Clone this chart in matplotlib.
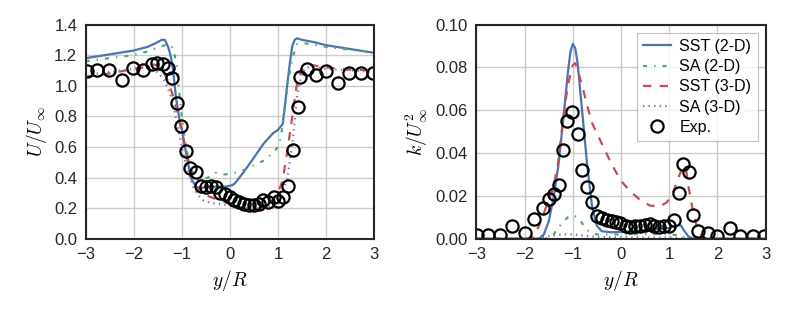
import matplotlib
matplotlib.use("Agg")
import matplotlib.pyplot as plt

# ---- left panel: mean velocity U/U_inf ----
u_sst2d_y = [-3, -2.5, -2, -1.7, -1.5, -1.42, -1.35, -1.28, -1.22, -1.18, -1.12, -1.05, -1.0, -0.9,
             -0.8, -0.7, -0.6, -0.5, -0.3, -0.1, 0.05, 0.1, 0.3, 0.5, 0.7, 0.9, 1.0, 1.1, 1.15, 1.2,
             1.25, 1.3, 1.35, 1.4, 1.5, 1.75, 2.0, 2.5, 3]
u_sst2d = [1.18, 1.205, 1.23, 1.255, 1.285, 1.30, 1.30, 1.25, 1.18, 1.10, 0.92, 0.78, 0.72, 0.54,
           0.39, 0.34, 0.33, 0.34, 0.34, 0.34, 0.35, 0.36, 0.44, 0.53, 0.62, 0.69, 0.71, 0.75, 0.88, 1.02,
           1.15, 1.26, 1.30, 1.31, 1.30, 1.285, 1.265, 1.24, 1.215]

u_sa2d_y = [-3, -2.5, -2, -1.7, -1.5, -1.35, -1.25, -1.2, -1.15, -1.1, -1.05, -1.0, -0.95, -0.9,
            -0.8, -0.7, -0.6, -0.45, -0.3, -0.1, 0.1, 0.3, 0.5, 0.7, 0.9, 1.0, 1.05, 1.1, 1.15, 1.2,
            1.3, 1.4, 1.5, 1.7, 2.0, 2.5, 3]
u_sa2d = [1.16, 1.18, 1.20, 1.225, 1.25, 1.265, 1.27, 1.25, 1.20, 1.12, 0.95, 0.80, 0.68, 0.58,
          0.45, 0.40, 0.385, 0.40, 0.43, 0.42, 0.43, 0.45, 0.48, 0.51, 0.56, 0.60, 0.65, 0.74, 0.87, 1.0,
          1.18, 1.27, 1.28, 1.27, 1.255, 1.235, 1.22]

u_sst3d_y = [-3, -2.5, -2, -1.8, -1.6, -1.5, -1.4, -1.3, -1.2, -1.1, -1.0, -0.9, -0.8, -0.7, -0.6,
             -0.5, -0.3, -0.1, 0.1, 0.3, 0.5, 0.7, 0.8, 0.9, 1.0, 1.1, 1.2, 1.3, 1.4, 1.5, 1.6, 1.8,
             2.0, 2.5, 3]
u_sst3d = [1.06, 1.08, 1.11, 1.12, 1.14, 1.13, 1.10, 1.04, 0.95, 0.84, 0.69, 0.56, 0.43, 0.34, 0.30,
           0.285, 0.26, 0.24, 0.215, 0.20, 0.19, 0.20, 0.22, 0.25, 0.30, 0.38, 0.58, 0.80, 1.02, 1.12,
           1.14, 1.13, 1.12, 1.105, 1.10]

u_sa3d_y = [-3, -2.5, -2, -1.7, -1.55, -1.45, -1.35, -1.25, -1.15, -1.05, -0.95, -0.85, -0.75, -0.65,
            -0.55, -0.4, -0.2, 0, 0.2, 0.4, 0.6, 0.8, 0.9, 1.0, 1.1, 1.2, 1.3, 1.4, 1.5, 1.6, 1.8, 2.0,
            2.5, 3]
u_sa3d = [1.07, 1.09, 1.11, 1.12, 1.10, 1.07, 1.03, 0.95, 0.83, 0.68, 0.53, 0.42, 0.33, 0.28,
          0.25, 0.235, 0.225, 0.22, 0.21, 0.20, 0.20, 0.21, 0.23, 0.26, 0.31, 0.40, 0.62, 0.93, 1.09,
          1.12, 1.12, 1.11, 1.10, 1.09]

u_exp_y = [-2.98, -2.76, -2.51, -2.24, -2.02, -1.80, -1.63, -1.52, -1.40, -1.29, -1.20, -1.11, -1.02,
           -0.92, -0.82, -0.70, -0.60, -0.50, -0.39, -0.29, -0.20, -0.11, 0.0, 0.09, 0.19, 0.30, 0.40,
           0.50, 0.61, 0.70, 0.79, 0.91, 1.00, 1.11, 1.21, 1.31, 1.41, 1.47, 1.60, 1.79, 2.00, 2.26,
           2.49, 2.74, 2.97]
u_exp = [1.095, 1.10, 1.10, 1.04, 1.117, 1.10, 1.145, 1.15, 1.14, 1.117, 1.05, 0.884, 0.736,
         0.575, 0.46, 0.437, 0.346, 0.34, 0.346, 0.335, 0.30, 0.29, 0.274, 0.253, 0.237, 0.226, 0.222,
         0.222, 0.23, 0.253, 0.242, 0.274, 0.246, 0.274, 0.344, 0.579, 0.862, 1.058, 1.112, 1.07,
         1.095, 1.015, 1.084, 1.08, 1.08]

# ---- right panel: turbulent kinetic energy k/U_inf^2 ----
k_sst2d_y = [-3, -2, -1.7, -1.6, -1.5, -1.4, -1.3, -1.2, -1.1, -1.05, -1.0, -0.95, -0.9, -0.8, -0.7,
             -0.6, -0.5, -0.4, -0.2, 0, 0.2, 0.5, 0.8, 1.0, 1.1, 1.2, 1.25, 1.3, 1.4, 1.5, 2, 3]
k_sst2d = [0, 0, 0, 0.002, 0.008, 0.019, 0.034, 0.055, 0.078, 0.087, 0.091, 0.089, 0.082, 0.058,
           0.034, 0.015, 0.006, 0.0035, 0.003, 0.0032, 0.0035, 0.004, 0.0045, 0.005, 0.0058, 0.0065,
           0.006, 0.004, 0.001, 0, 0, 0]

k_sa2d_y = [-3, -1.6, -1.5, -1.4, -1.3, -1.2, -1.1, -1.0, -0.9, -0.8, -0.7, -0.6, -0.5, 0, 0.5, 1.0,
            1.2, 1.3, 1.4, 1.5, 3]
k_sa2d = [0, 0, 0.0005, 0.002, 0.005, 0.008, 0.010, 0.011, 0.010, 0.007, 0.004, 0.0025, 0.002,
          0.002, 0.0022, 0.0022, 0.0015, 0.0008, 0.0002, 0, 0]

k_sst3d_y = [-3, -2, -1.85, -1.7, -1.6, -1.5, -1.4, -1.3, -1.2, -1.1, -1.0, -0.95, -0.9, -0.8, -0.7,
             -0.6, -0.4, -0.2, 0, 0.2, 0.4, 0.6, 0.8, 0.95, 1.05, 1.15, 1.25, 1.3, 1.35, 1.4, 1.5, 1.6,
             1.75, 2, 3]
k_sst3d = [0, 0, 0, 0.006, 0.012, 0.018, 0.024, 0.036, 0.056, 0.072, 0.081, 0.082, 0.079, 0.071,
           0.062, 0.054, 0.0445, 0.035, 0.027, 0.022, 0.018, 0.0155, 0.015, 0.017, 0.020, 0.026, 0.032,
           0.034, 0.032, 0.024, 0.012, 0.003, 0, 0, 0]

k_sa3d_y = [-3, -1.7, -1.6, -1.4, -1.2, -1.0, -0.8, -0.6, -0.4, 0, 0.5, 1.0, 1.3, 1.4, 3]
k_sa3d = [0, 0, 0.0008, 0.0015, 0.002, 0.002, 0.0015, 0.001, 0.0008, 0.0006, 0.0006, 0.0006,
          0.0003, 0, 0]

k_exp_y = [-2.98, -2.75, -2.51, -2.25, -2.0, -1.81, -1.61, -1.49, -1.39, -1.29, -1.21, -1.11, -1.01,
           -0.89, -0.80, -0.70, -0.60, -0.50, -0.40, -0.30, -0.19, -0.10, -0.02, 0.10, 0.19, 0.29,
           0.39, 0.50, 0.60, 0.69, 0.79, 0.90, 1.0, 1.10, 1.20, 1.29, 1.41, 1.49, 1.59, 1.80, 2.0,
           2.25, 2.47, 2.73, 2.97]
k_exp = [0.0017, 0.0016, 0.0016, 0.0059, 0.0028, 0.009, 0.0142, 0.0185, 0.021, 0.0253, 0.0414,
         0.055, 0.059, 0.049, 0.032, 0.024, 0.0173, 0.0106, 0.0095, 0.0087, 0.0082, 0.0079, 0.0072,
         0.0059, 0.0054, 0.0059, 0.0061, 0.0064, 0.0068, 0.0059, 0.0056, 0.0061, 0.0059, 0.0087,
         0.0215, 0.0347, 0.031, 0.0113, 0.0036, 0.0025, 0.0014, 0.0051, 0.0012, 0.0012, 0.0014]

# seaborn "deep" colours
c_blue, c_green, c_red, c_purple = "#4C72B0", "#55A868", "#C44E52", "#8172B2"

plt.rcParams["font.family"] = ["Liberation Sans", "DejaVu Sans"]
plt.rcParams["mathtext.fontset"] = "cm"
plt.rcParams["font.size"] = 11
plt.rcParams["lines.scale_dashes"] = False

# old-style (unscaled) dash patterns
DASH = (6, 6)
DASHDOT = (3, 5, 1, 5)
DOT = (1, 3)

fig = plt.figure(figsize=(7.89, 3.16), dpi=100)
ax1 = fig.add_axes([0.1086, 0.2446, 0.3654, 0.6778])
ax2 = fig.add_axes([0.6037, 0.2446, 0.3668, 0.6778])


def style(ax):
    ax.grid(True, color="#cccccc", linewidth=1.0)
    ax.set_axisbelow(True)
    for s in ax.spines.values():
        s.set_color("#262626")
        s.set_linewidth(1.5)
    ax.tick_params(length=0, pad=6, labelsize=12, colors="#262626")
    ax.set_xlim(-3, 3)
    ax.set_xticks([-3, -2, -1, 0, 1, 2, 3])
    ax.set_xticklabels(["\u22123", "\u22122", "\u22121", "0", "1", "2", "3"])
    ax.set_xlabel("$y/R$", fontsize=14, labelpad=4)


mk = dict(ls="none", marker="o", ms=8.8, mfc="none", mec="black", mew=1.6)

ax1.plot(u_sst2d_y, u_sst2d, "-", color=c_blue, lw=1.6)
ax1.plot(u_sa2d_y, u_sa2d, color=c_green, lw=1.6, dashes=DASHDOT)
ax1.plot(u_sst3d_y, u_sst3d, color=c_red, lw=1.6, dashes=DASH)
ax1.plot(u_sa3d_y, u_sa3d, color=c_purple, lw=1.6, dashes=DOT)
ax1.plot(u_exp_y, u_exp, **mk)
style(ax1)
ax1.set_ylim(0, 1.4)
ax1.set_yticks([0.0, 0.2, 0.4, 0.6, 0.8, 1.0, 1.2, 1.4])
ax1.set_yticklabels(["0.0", "0.2", "0.4", "0.6", "0.8", "1.0", "1.2", "1.4"])
ax1.set_ylabel("$U/U_\\infty$", fontsize=14, labelpad=4)

ax2.plot(k_sst2d_y, k_sst2d, "-", color=c_blue, lw=1.6, label="SST (2-D)")
ax2.plot(k_sa2d_y, k_sa2d, color=c_green, lw=1.6, dashes=DASHDOT, label="SA (2-D)")
ax2.plot(k_sst3d_y, k_sst3d, color=c_red, lw=1.6, dashes=DASH, label="SST (3-D)")
ax2.plot(k_sa3d_y, k_sa3d, color=c_purple, lw=1.6, dashes=DOT, label="SA (3-D)")
ax2.plot(k_exp_y, k_exp, label="Exp.", **mk)
style(ax2)
ax2.set_ylim(0, 0.1)
ax2.set_yticks([0.0, 0.02, 0.04, 0.06, 0.08, 0.10])
ax2.set_yticklabels(["0.00", "0.02", "0.04", "0.06", "0.08", "0.10"])
ax2.set_ylabel("$k/U_\\infty^2$", fontsize=14, labelpad=4)

leg = ax2.legend(loc="upper right", fontsize=11.5, frameon=True, fancybox=False,
                 borderpad=0.4, handlelength=1.7, handletextpad=0.55,
                 labelspacing=0.33, borderaxespad=0.5)
leg.get_frame().set_edgecolor("#b0b0b0")
leg.get_frame().set_linewidth(0.8)

fig.savefig("out.png", dpi=100)
